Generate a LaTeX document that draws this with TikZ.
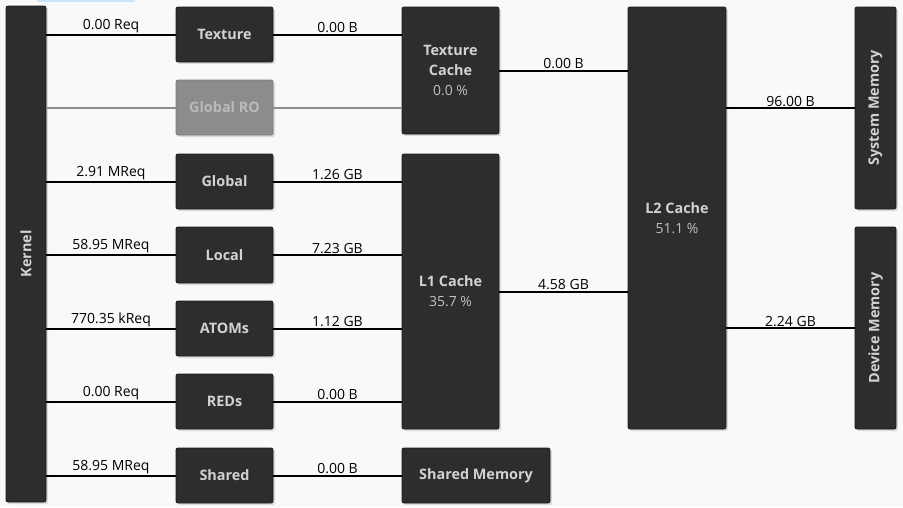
\documentclass[tikz,border=0pt]{standalone}
\usepackage{fontspec}
\setmainfont{Open Sans}
\usetikzlibrary{shadows}
\definecolor{bg}{HTML}{F9F9F9}
\definecolor{boxfill}{HTML}{2D2D30}
\definecolor{boxline}{HTML}{1A1A1A}
\definecolor{boxtxt}{HTML}{D2D2D2}
\definecolor{pcttxt}{HTML}{C0C0C0}
\definecolor{rofill}{HTML}{8C8C8C}
\definecolor{roline}{HTML}{7C7C7C}
\definecolor{rotxt}{HTML}{BABABA}
\definecolor{roconn}{HTML}{8E8E8E}
\definecolor{selblue}{HTML}{CCE4F7}
\newcommand{\pctfont}{\fontsize{10.5}{15}\selectfont\mdseries\color{pcttxt}}
\begin{document}
\begin{tikzpicture}[x=0.75pt,y=-0.75pt,
  unit/.style 2 args={minimum width=#1*0.75pt, minimum height=#2*0.75pt},
  box/.style={draw=boxline, fill=boxfill, rounded corners=1.5pt, line width=0.6pt,
    text=boxtxt, font=\fontsize{10.8}{15}\selectfont\bfseries, align=center, inner sep=0pt,
    drop shadow={opacity=0.25, shadow xshift=1.5pt, shadow yshift=-1.5pt}},
  robox/.style={box, draw=roline, fill=rofill, text=rotxt},
  conn/.style={line width=1.5pt, black},
  roconnst/.style={line width=1.5pt, roconn},
  lbl/.style={midway, above, inner sep=0.6pt, font=\fontsize{10.5}{12}\selectfont, text=black},
  vlbl/.style={rotate=90, text=boxtxt, font=\fontsize{10.8}{15}\selectfont\bfseries}
]
\useasboundingbox[fill=bg] (0,0) rectangle (903,507);
\fill[selblue] (37,0) rectangle (135,1.5);

% Kernel
\node[box, unit={40}{496}, label={[vlbl]center:Kernel}] (kernel) at (26,254) {};

% first column
\node[box, unit={97}{55}] (texture) at (224.5,34.5) {Texture};
\node[robox, unit={97}{55}] (globalro) at (224.5,107.5) {Global RO};
\node[box, unit={97}{55}] (global) at (224.5,181.5) {Global};
\node[box, unit={97}{56}] (local) at (224.5,255) {Local};
\node[box, unit={97}{55}] (atoms) at (224.5,328.5) {ATOMs};
\node[box, unit={97}{55}] (reds) at (224.5,401.5) {REDs};
\node[box, unit={97}{55}] (shared) at (224.5,475.5) {Shared};

% second column
\node[box, unit={97}{127}] (texcache) at (450.5,70.5) {Texture\\Cache\\{\pctfont 0.0 \%}};
\node[box, unit={97}{275}] (l1) at (450.5,291.5) {L1 Cache\\{\pctfont 35.7 \%}};
\node[box, unit={148}{55}] (shmem) at (476,475.5) {Shared Memory};

% L2
\node[box, unit={98}{422}] (l2) at (677,218) {L2 Cache\\{\pctfont 51.1 \%}};

% memories
\node[box, unit={41}{202}, label={[vlbl]center:System Memory}] (sysmem) at (875.5,108) {};
\node[box, unit={41}{202}, label={[vlbl]center:Device Memory}] (devmem) at (875.5,328) {};

% kernel connectors
\draw[conn] (kernel.east |- texture.west) -- (texture.west) node[lbl]{0.00 Req};
\draw[roconnst] (kernel.east |- globalro.west) -- (globalro.west);
\draw[conn] (kernel.east |- global.west) -- (global.west) node[lbl]{2.91 MReq};
\draw[conn] (kernel.east |- local.west) -- (local.west) node[lbl]{58.95 MReq};
\draw[conn] (kernel.east |- atoms.west) -- (atoms.west) node[lbl]{770.35 kReq};
\draw[conn] (kernel.east |- reds.west) -- (reds.west) node[lbl]{0.00 Req};
\draw[conn] (kernel.east |- shared.west) -- (shared.west) node[lbl]{58.95 MReq};

% to caches
\draw[conn] (texture.east) -- (texcache.west |- texture.east) node[lbl]{0.00 B};
\draw[roconnst] (globalro.east) -- (texcache.west |- globalro.east);
\draw[conn] (global.east) -- (l1.west |- global.east) node[lbl]{1.26 GB};
\draw[conn] (local.east) -- (l1.west |- local.east) node[lbl]{7.23 GB};
\draw[conn] (atoms.east) -- (l1.west |- atoms.east) node[lbl]{1.12 GB};
\draw[conn] (reds.east) -- (l1.west |- reds.east) node[lbl]{0.00 B};
\draw[conn] (shared.east) -- (shmem.west) node[lbl]{0.00 B};

% to L2
\draw[conn] (texcache.east) -- (l2.west |- texcache.east) node[lbl]{0.00 B};
\draw[conn] (l1.east) -- (l2.west |- l1.east) node[lbl]{4.58 GB};

% to memories
\draw[conn] (l2.east |- sysmem.west) -- (sysmem.west) node[lbl]{96.00 B};
\draw[conn] (l2.east |- devmem.west) -- (devmem.west) node[lbl]{2.24 GB};
\end{tikzpicture}
\end{document}
